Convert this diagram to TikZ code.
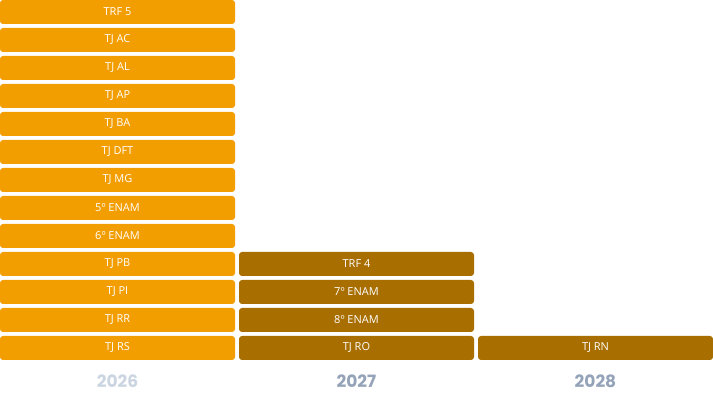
\documentclass[tikz,border=0pt]{standalone}
\usepackage{fontspec}
\setmainfont{Open Sans}
\newfontfamily\yearfont{Poppins}
\usepackage{xcolor}
\usepackage{tikz}
\usetikzlibrary{positioning}

\definecolor{orangebox}{HTML}{F29D00}
\definecolor{brownbox}{HTML}{A86E00}
\definecolor{yearlight}{HTML}{CBD5E1}
\definecolor{yeardark}{HTML}{94A3B8}

\begin{document}
\begin{tikzpicture}[x=1pt, y=1pt, node distance=4pt,
    court/.style={rectangle, rounded corners=3pt, minimum width=235pt, minimum height=24pt,
        inner sep=0pt, outer sep=0pt, text=white, font=\fontsize{11}{13}\selectfont},
    first/.style={court, fill=orangebox},
    later/.style={court, fill=brownbox},
    year/.style={font=\yearfont\bfseries\fontsize{17}{20}\selectfont, text=yeardark}]
                \useasboundingbox (0,0) rectangle (713,-398);
                % 2026
                \node[first] (trf5) at (117.5,-12) {TRF 5};
                \node[first, below=of trf5] (tjac) {TJ AC};
                \node[first, below=of tjac] (tjal) {TJ AL};
                \node[first, below=of tjal] (tjap) {TJ AP};
                \node[first, below=of tjap] (tjba) {TJ BA};
                \node[first, below=of tjba] (tjdft) {TJ DFT};
                \node[first, below=of tjdft] (tjmg) {TJ MG};
                \node[first, below=of tjmg] (enam5) {5º ENAM};
                \node[first, below=of enam5] (enam6) {6º ENAM};
                \node[first, below=of enam6] (tjpb) {TJ PB};
                \node[first, below=of tjpb] (tjpi) {TJ PI};
                \node[first, below=of tjpi] (tjrr) {TJ RR};
                \node[first, below=of tjrr] (tjrs) {TJ RS};
                % 2027
                \node[later, right=of tjpb] (trf4) {TRF 4};
                \node[later, below=of trf4] (enam7) {7º ENAM};
                \node[later, below=of enam7] (enam8) {8º ENAM};
                \node[later, below=of enam8] (tjro) {TJ RO};
                % 2028
                \node[later, right=of tjro] (tjrn) {TJ RN};

                % years
                \node[year, text=yearlight] (y2026) at (tjrs |- 0,-381) {2026};
                \node[year] (y2027) at (tjro |- 0,-381) {2027};
                \node[year] (y2028) at (tjrn |- 0,-381) {2028};
            \end{tikzpicture}
\end{document}
